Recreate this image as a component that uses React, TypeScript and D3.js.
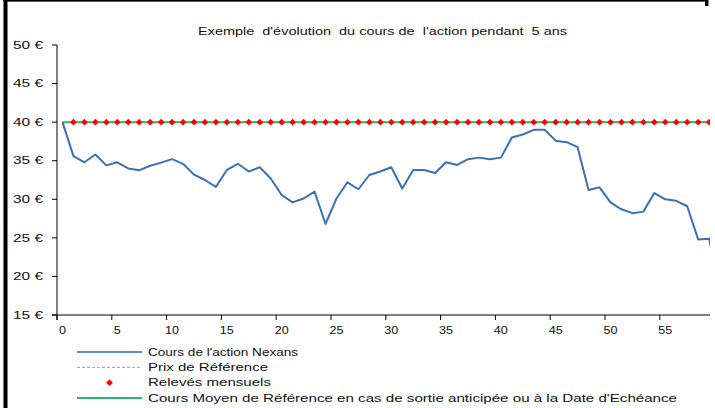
import { useEffect, useRef } from 'react'
import * as d3 from 'd3'

// monthly closing price, month 0 .. 60 (last point falls outside the visible area)
const months = d3.range(0, 61)
const prices = [
  40.0, 35.6, 34.8, 35.8, 34.4, 34.8, 34.0, 33.75, 34.35, 34.75,
  35.2, 34.6, 33.2, 32.5, 31.6, 33.8, 34.6, 33.6, 34.15, 32.7,
  30.55, 29.6, 30.1, 31.0, 26.8, 30.1, 32.2, 31.3, 33.15, 33.6,
  34.15, 31.4, 33.8, 33.8, 33.4, 34.8, 34.45, 35.2, 35.4, 35.2,
  35.4, 38.0, 38.4, 39.0, 39.0, 37.6, 37.4, 36.75, 31.2, 31.55,
  29.6, 28.7, 28.2, 28.4, 30.8, 30.0, 29.8, 29.1, 24.8, 24.9,
  18.0,
]
const referencePrice = 40
const readingMonths = d3.range(1, 61)
const yTicks = [15, 20, 25, 30, 35, 40, 45, 50]
const xTicks = [0, 5, 10, 15, 20, 25, 30, 35, 40, 45, 50, 55]

const title = "Exemple  d'évolution  du cours de  l'action pendant  5 ans"
const legendItems = [
  { label: "Cours de l'action Nexans", kind: 'blue', len: 150 },
  { label: 'Prix de Référence', kind: 'dash', len: 120 },
  { label: 'Relevés mensuels', kind: 'dot', len: 123 },
  { label: "Cours Moyen de Référence en cas de sortie anticipée ou à la Date d'Echéance", kind: 'green', len: 529 },
]

const BLUE = '#3b6fb6'
const GREEN = '#2db36f'
const RED = '#ff0000'
const FONT = '"Liberation Sans", Arial, sans-serif'

export default function App() {
  const svgRef = useRef<SVGSVGElement>(null)
  const width = 715
  const height = 408

  useEffect(() => {
    if (!svgRef.current) return
    document.body.style.margin = '0'
    const svg = d3.select(svgRef.current)
    svg.selectAll('*').remove()

    const left = 57, right = 710, top = 45, bottom = 315
    const step = 10.96

    const x = d3.scaleBand<number>()
      .domain(months)
      .range([left, left + step * months.length])
      .padding(0)
    const cx = (m: number) => (x(m) || 0) + x.bandwidth() / 2

    const y = d3.scaleLinear().domain([15, 50]).range([bottom, top])

    // frame pieces
    svg.append('rect').attr('x', 3.5).attr('y', 0).attr('width', 4).attr('height', height).attr('fill', '#000')
    svg.append('rect').attr('x', 3.5).attr('y', 0).attr('width', 703).attr('height', 1.6).attr('fill', '#000')
    svg.append('rect').attr('x', 705).attr('y', 0).attr('width', 3.5).attr('height', 6).attr('fill', '#000')

    // title
    svg.append('text')
      .attr('x', 198).attr('y', 35)
      .attr('textLength', 369).attr('lengthAdjust', 'spacingAndGlyphs')
      .style('white-space', 'pre')
      .style('font-family', FONT).style('font-size', '10.5px').style('fill', '#111')
      .text(title)

    const clipId = 'plot-clip'
    svg.append('clipPath').attr('id', clipId)
      .append('rect').attr('x', left).attr('y', top - 6).attr('width', right - left).attr('height', bottom - top + 6)

    const plot = svg.append('g').attr('clip-path', `url(#${clipId})`)

    const flat = d3.line<number>().x(m => cx(m)).y(() => y(referencePrice))

    // reference price (hidden under the others) and average reference line
    plot.append('path').datum(months)
      .attr('d', flat).attr('fill', 'none')
      .attr('stroke', '#999').attr('stroke-width', 1).attr('stroke-dasharray', '3,2')
    plot.append('path').datum(months)
      .attr('d', flat).attr('fill', 'none')
      .attr('stroke', GREEN).attr('stroke-width', 2)

    // monthly readings
    const diamond = d3.symbol().type(d3.symbolSquare).size(22)
    plot.selectAll('.reading')
      .data(readingMonths)
      .enter().append('path')
      .attr('class', 'reading')
      .attr('d', diamond)
      .attr('transform', m => `translate(${cx(m)},${y(referencePrice)}) rotate(45)`)
      .attr('fill', RED)

    // share price
    const line = d3.line<number>().x((_, i) => cx(months[i])).y(d => y(d))
    plot.append('path').datum(prices)
      .attr('d', line).attr('fill', 'none')
      .attr('stroke', BLUE).attr('stroke-width', 2).attr('stroke-linejoin', 'round')

    // axes
    svg.append('line').attr('x1', left).attr('x2', left).attr('y1', top).attr('y2', bottom + 5)
      .attr('stroke', '#000').attr('stroke-width', 1)
    svg.append('line').attr('x1', left - 5).attr('x2', right).attr('y1', bottom).attr('y2', bottom)
      .attr('stroke', '#000').attr('stroke-width', 1)

    const yt = svg.append('g')
    yTicks.forEach(t => {
      yt.append('line').attr('x1', left - 5).attr('x2', left).attr('y1', y(t)).attr('y2', y(t))
        .attr('stroke', '#000').attr('stroke-width', 1)
      yt.append('text')
        .attr('x', 13).attr('y', y(t) + 3.7)
        .attr('textLength', 30).attr('lengthAdjust', 'spacingAndGlyphs')
        .style('font-family', FONT).style('font-size', '10.5px').style('fill', '#111')
        .text(`${t} €`)
    })

    const xt = svg.append('g')
    xTicks.forEach(t => {
      const tx = x(t) || 0
      xt.append('line').attr('x1', tx).attr('x2', tx).attr('y1', bottom).attr('y2', bottom + 5)
        .attr('stroke', '#000').attr('stroke-width', 1)
      const label = String(t)
      xt.append('text')
        .attr('x', cx(t)).attr('y', 333.5)
        .attr('text-anchor', 'middle')
        .attr('textLength', label.length * 7).attr('lengthAdjust', 'spacingAndGlyphs')
        .style('font-family', FONT).style('font-size', '10.5px').style('fill', '#111')
        .text(label)
    })

    // legend
    const lg = svg.append('g')
    const rowY = d3.scaleLinear().domain([0, 3]).range([352, 398])
    legendItems.forEach((item, i) => {
      const ly = rowY(i)
      if (item.kind === 'blue') {
        lg.append('line').attr('x1', 77).attr('x2', 142).attr('y1', ly).attr('y2', ly)
          .attr('stroke', '#5b8fd0').attr('stroke-width', 2)
      } else if (item.kind === 'dash') {
        lg.append('line').attr('x1', 77).attr('x2', 142).attr('y1', ly).attr('y2', ly)
          .attr('stroke', '#999').attr('stroke-width', 1).attr('stroke-dasharray', '3,2')
      } else if (item.kind === 'dot') {
        lg.append('path').attr('d', diamond)
          .attr('transform', `translate(109.5,${ly}) rotate(45)`)
          .attr('fill', RED)
      } else {
        lg.append('line').attr('x1', 77).attr('x2', 142).attr('y1', ly).attr('y2', ly)
          .attr('stroke', GREEN).attr('stroke-width', 2)
      }
      lg.append('text')
        .attr('x', 148).attr('y', ly + 3.8)
        .attr('textLength', item.len).attr('lengthAdjust', 'spacingAndGlyphs')
        .style('font-family', FONT).style('font-size', '10.5px').style('fill', '#111')
        .text(item.label)
    })
  }, [])

  return <svg ref={svgRef} width={width} height={height} style={{ display: 'block', background: '#fff' }} />
}
